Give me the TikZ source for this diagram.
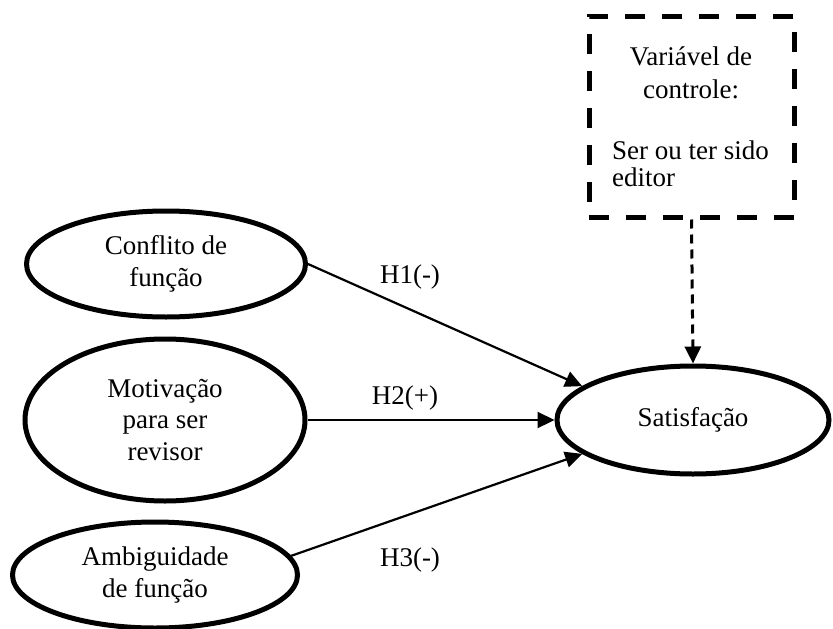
\documentclass[tikz,border=0pt]{standalone}
\usepackage{fontspec}
\setmainfont{Liberation Serif}
\usetikzlibrary{shapes.geometric,arrows.meta}
\begin{document}
\begin{tikzpicture}[x=1pt,y=-1pt,
  every node/.style={font=\fontsize{27}{31.5}\selectfont},
  oval/.style={draw,ellipse,line width=5pt,inner sep=0pt,align=center},
  ctrlbox/.style={draw,line width=5pt,dash pattern=on 20pt off 17pt,minimum width=205pt,minimum height=201pt,inner sep=0pt},
  hpath/.style={line width=2.2pt,-{Triangle[length=17pt,width=16pt]}},
  ctrlpath/.style={line width=3pt,dash pattern=on 9pt off 6pt,-{Triangle[length=17pt,width=16pt]}},
  lbl/.style={inner sep=0pt}]
\useasboundingbox (0,0) rectangle (833,629);
\node[oval,minimum width=279pt,minimum height=106pt] (c) at (166,264) {Conflito de\\função};
\node[oval,minimum width=280pt,minimum height=162pt] (m) at (165,420) {Motivação\\para ser\\revisor};
\node[oval,minimum width=285pt,minimum height=106pt] (a) at (155,575) {Ambiguidade\\de função};
\node[oval,minimum width=272pt,minimum height=108pt] (s) at (693,420) {Satisfação};
\node[ctrlbox] (b) at (691.5,116.5) {};
\node[lbl] (t1) at (691,56) {Variável de};
\node[lbl] (t2) at (691,89) {controle:};
\node[lbl,anchor=west] (t3) at (612,150) {Ser ou ter sido};
\node[lbl,anchor=west] (t4) at (612,177) {editor};
\draw[hpath] (c.east) -- (s.163);
\draw[hpath] (m.east) -- (s.west);
\draw[hpath] (a.8) -- (s.197);
\draw[ctrlpath] (b.south) -- (s.north);
\node[lbl] (h1) at (410,277) {H1(-)};
\node[lbl] (h2) at (405,398) {H2(+)};
\node[lbl] (h3) at (410,560) {H3(-)};
\end{tikzpicture}
\end{document}
